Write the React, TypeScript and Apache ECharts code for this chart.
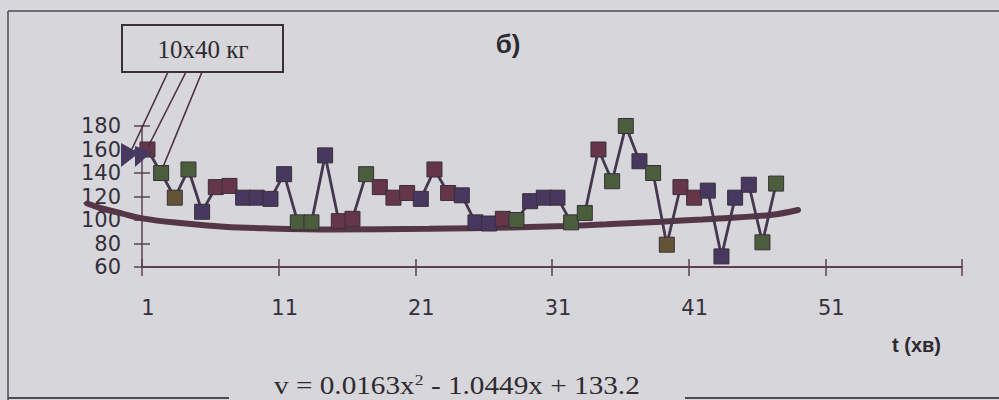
import React, { useEffect, useRef } from "react";
import * as echarts from "echarts";

const pointValues = [
  160, 140, 119, 143, 107, 128, 129, 119, 119, 118,
  139, 98, 98, 155, 99, 101, 139, 128, 119, 123,
  118, 143, 123, 121, 98, 97, 101, 100, 116, 119,
  119, 98, 106, 160, 133, 180, 150, 140, 79, 128,
  119, 125, 69, 119, 130, 81, 131,
];
// Scanned marker tint of each point (P purple, G green, B brown, O olive)
const pointTones = [
  "B", "G", "O", "G", "P", "B", "B", "P", "P", "P",
  "P", "G", "G", "P", "B", "B", "G", "B", "B", "B",
  "P", "B", "B", "P", "P", "P", "B", "G", "P", "P",
  "P", "G", "G", "B", "G", "G", "P", "G", "O", "B",
  "B", "P", "P", "P", "P", "G", "G",
];
// Trend curve
const trendX = [-3, -2, -0.5, 1, 4, 7, 10, 15, 22, 28, 32, 35, 39, 42, 47, 49];
const trendY = [114, 110, 105.7, 101.4, 97.2, 94.3, 92.9, 92, 92.5, 93.6, 94.9, 96.3, 98.6, 100.5, 104.3, 108.5];

const xTickValues = [1, 11, 21, 31, 41, 51, 61];
const xLabelValues = [1, 11, 21, 31, 41, 51];
const yMin = 60;
const yMax = 180;
const yStep = 20;

const callout = "10x40 кг";
const panelTag = "б)";
const xName = "t (хв)";

const X_SHIFT = 0.4;

const toneColors: Record<string, string> = {
  P: "#46385f",
  G: "#4a5e3c",
  B: "#653648",
  O: "#625434",
};

export default function App() {
  const ref = useRef<HTMLDivElement>(null);
  useEffect(() => {
    document.body.style.margin = "0";
    if (!ref.current) return;
    const chart = echarts.init(ref.current, null, { renderer: "svg" });
    const labelFont = "DejaVu Sans";
    const axisColor = "#5a4252";
    // grid 1 shares the scale of grid 0 but starts 4 units earlier (trend extends backwards)
    const unitPx = (999 - 37 - 142) / (61 - 1);
    const trendMin = -3;
    const trendLeft = 142 - (1 - trendMin) * unitPx;
    const hiddenAxis = {
      axisLine: { show: false },
      axisTick: { show: false },
      axisLabel: { show: false },
      splitLine: { show: false },
    };
    const option: any = {
      animation: false,
      backgroundColor: "#d7d6db",
      grid: [
        { left: 142, right: 37, top: 126, bottom: 133, containLabel: false, outerBoundsMode: "none" },
        { left: trendLeft, right: 37, top: 126, bottom: 133, containLabel: false, outerBoundsMode: "none" },
      ],
      xAxis: [
        {
          type: "value",
          gridIndex: 0,
          min: 1,
          max: 61,
          position: "bottom",
          axisLine: { show: true, onZero: false, lineStyle: { color: axisColor, width: 2 } },
          axisTick: { show: true, length: 9, customValues: xTickValues, lineStyle: { color: axisColor, width: 1.5 } },
          axisLabel: {
            show: true,
            customValues: xLabelValues,
            margin: 30,
            padding: [0, 0, 0, 12],
            fontFamily: labelFont,
            fontSize: 21,
            color: "#352f3b",
          },
          splitLine: { show: false },
        },
        {
          type: "value",
          gridIndex: 0,
          min: 1,
          max: 61,
          position: "bottom",
          axisLine: { show: false, onZero: false },
          axisTick: { show: true, inside: true, length: 8, customValues: xTickValues, lineStyle: { color: axisColor, width: 1.5 } },
          axisLabel: { show: false },
          splitLine: { show: false },
        },
        { type: "value", gridIndex: 1, min: trendMin, max: 61, ...hiddenAxis },
      ],
      yAxis: [
        {
          type: "value",
          gridIndex: 0,
          min: yMin,
          max: yMax,
          interval: yStep,
          position: "left",
          axisLine: { show: true, onZero: false, lineStyle: { color: axisColor, width: 1.5 } },
          axisTick: { show: true, length: 8, lineStyle: { color: axisColor, width: 1.5 } },
          axisLabel: { margin: 21, fontFamily: labelFont, fontSize: 21, color: "#352f3b" },
          splitLine: { show: false },
        },
        {
          type: "value",
          gridIndex: 0,
          min: yMin,
          max: yMax,
          interval: yStep,
          position: "left",
          axisLine: { show: false, onZero: false },
          axisTick: { show: true, inside: true, length: 8, lineStyle: { color: axisColor, width: 1.5 } },
          axisLabel: { show: false },
          splitLine: { show: false },
        },
        { type: "value", gridIndex: 1, min: yMin, max: yMax, ...hiddenAxis },
      ],
      series: [
        {
          type: "line",
          name: "trend",
          xAxisIndex: 2,
          yAxisIndex: 2,
          clip: false,
          smooth: 0.4,
          symbol: "none",
          data: trendX.map((x, i) => [x, trendY[i]]),
          lineStyle: { color: "#553646", width: 6, cap: "round" },
          z: 2,
        },
        {
          type: "line",
          name: "v",
          xAxisIndex: 0,
          yAxisIndex: 0,
          clip: false,
          symbol: "rect",
          symbolSize: 15,
          data: pointValues.map((v, i) => ({
            value: [i + 1 + X_SHIFT, v],
            itemStyle: { color: toneColors[pointTones[i]], borderColor: "#3a2e3c", borderWidth: 1 },
          })),
          lineStyle: { color: "#45374e", width: 2.8 },
          z: 3,
        },
      ],
      graphic: [
        { type: "line", shape: { x1: 8, y1: 11, x2: 999, y2: 11 }, style: { stroke: "#4e4a52", lineWidth: 1.5 }, z: 10 },
        { type: "line", shape: { x1: 8, y1: 11, x2: 8, y2: 400 }, style: { stroke: "#4e4a52", lineWidth: 1.5 }, z: 10 },
        { type: "line", shape: { x1: 8, y1: 398, x2: 229, y2: 398 }, style: { stroke: "#4e4a52", lineWidth: 2 }, z: 10 },
        { type: "line", shape: { x1: 685, y1: 398, x2: 999, y2: 398 }, style: { stroke: "#4e4a52", lineWidth: 2 }, z: 10 },
        { type: "rect", shape: { x: 122, y: 25, width: 161, height: 47 }, style: { fill: "none", stroke: "#3a3036", lineWidth: 2 }, z: 10 },
        {
          type: "text",
          x: 203,
          y: 49,
          style: { text: callout, font: "25px 'Liberation Serif'", fill: "#2e2a30", align: "center", verticalAlign: "middle" },
          z: 10,
        },
        { type: "line", shape: { x1: 168, y1: 72, x2: 132, y2: 149 }, style: { stroke: "#4a3040", lineWidth: 1.6 }, z: 10 },
        { type: "line", shape: { x1: 186, y1: 72, x2: 148, y2: 147 }, style: { stroke: "#4a3040", lineWidth: 1.6 }, z: 10 },
        { type: "line", shape: { x1: 202, y1: 72, x2: 163, y2: 167 }, style: { stroke: "#4a3040", lineWidth: 1.6 }, z: 10 },
        { type: "polygon", shape: { points: [[121, 143], [121, 167], [139, 153]] }, style: { fill: "#46385f" }, z: 11 },
        { type: "polygon", shape: { points: [[135, 146], [135, 167], [152, 152]] }, style: { fill: "#46385f" }, z: 11 },
        {
          type: "text",
          x: 508,
          y: 44,
          style: { text: panelTag, font: "bold 26px 'Liberation Sans'", fill: "#2e2a30", align: "center", verticalAlign: "middle" },
          z: 10,
        },
        {
          type: "text",
          x: 892,
          y: 345,
          style: { text: xName, font: "bold 20px 'Liberation Sans'", fill: "#2e2a30", align: "left", verticalAlign: "middle" },
          z: 10,
        },
        {
          type: "text",
          x: 274,
          y: 386,
          scaleX: 1.17,
          style: {
            text: "v = 0.0163x{sup|2} - 1.0449x + 133.2",
            font: "25px 'Liberation Serif'",
            fill: "#2e2a30",
            align: "left",
            verticalAlign: "middle",
            rich: {
              sup: { font: "15px 'Liberation Serif'", fill: "#2e2a30", verticalAlign: "top", padding: [0, 0, 12, 0] },
            },
          },
          z: 10,
        },
      ],
    };
    chart.setOption(option);
    return () => chart.dispose();
  }, []);
  return <div ref={ref} style={{ width: 999, height: 400 }} />;
}
